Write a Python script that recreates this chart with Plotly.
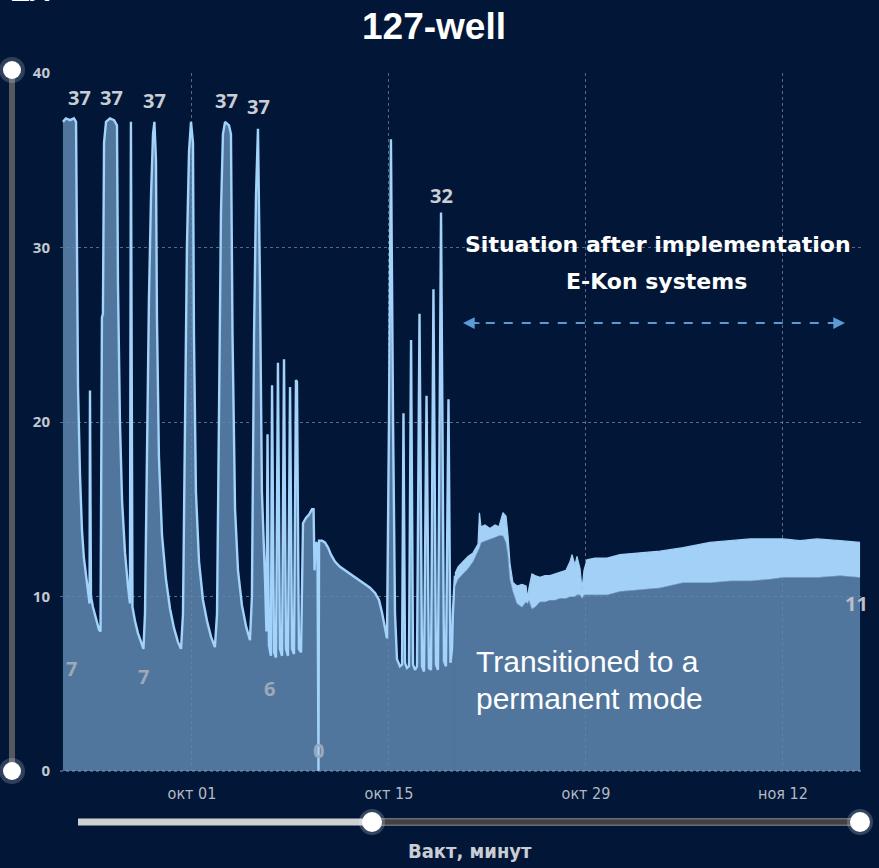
import plotly.graph_objects as go
import pandas as pd

# ---------------- data ----------------
base_date = pd.Timestamp("2023-10-01")

# days relative to 1 Oct, and values of the main (cyclic) series
main_days = [-9.17, -8.96, -8.67, -8.39, -8.24, -8.17, -8.10, -7.96, -7.82, -7.68,
             -7.53, -7.39, -7.28, -7.25, -7.18, -7.04, -6.82, -6.61, -6.50, -6.40,
             -6.33, -6.25, -6.11, -5.83, -5.54, -5.33, -5.26, -5.12, -4.97, -4.76,
             -4.55, -4.41, -4.34, -4.23, -4.05, -3.84, -3.62, -3.45, -3.34, -3.20,
             -3.06, -2.91, -2.77, -2.67, -2.56, -2.49, -2.35, -2.13, -1.85, -1.56,
             -1.28, -1.00, -0.78, -0.64, -0.50, -0.36, -0.21, -0.07, 0.07, 0.14,
             0.28, 0.50, 0.78, 1.07, 1.35, 1.63, 1.78, 1.92, 2.06, 2.20,
             2.35, 2.63, 2.77, 2.88, 3.06, 3.27, 3.55, 3.84, 4.12, 4.26,
             4.41, 4.55, 4.69, 4.83, 4.97, 5.19, 5.29, 5.37, 5.47, 5.61,
             5.69, 5.83, 5.97, 6.11, 6.25, 6.40, 6.54, 6.68, 6.82, 6.97,
             7.11, 7.25, 7.39, 7.46, 7.60, 7.75, 7.89, 8.10, 8.32, 8.53,
             8.64, 8.71, 8.81, 8.92, 8.96, 8.99, 9.03, 9.24, 9.45, 9.67,
             9.88, 10.16, 10.52, 10.87, 11.23, 11.58, 11.94, 12.30, 12.65, 13.01,
             13.29, 13.50, 13.72, 13.86, 14.00, 14.14, 14.29, 14.43, 14.57, 14.78,
             14.93, 15.03, 15.14, 15.28, 15.42, 15.57, 15.71, 15.85, 15.99, 16.17,
             16.35, 16.49, 16.67, 16.84, 16.99, 17.16, 17.34, 17.48, 17.70, 17.91,
             18.05, 18.23, 18.37, 18.48, 18.55, 18.69]
main_vals = [37.2, 37.4, 37.3, 37.4, 37.2, 30, 22, 17, 13.8, 12.2,
             11.2, 10.2, 9.6, 21.8, 10.0, 9.4, 8.8, 8.1, 8.0, 26,
             26.2, 36, 37.2, 37.4, 37.3, 37.0, 28, 20, 15.5, 12.5,
             10.6, 9.6, 37.2, 9.4, 8.6, 7.9, 7.4, 7.0, 9, 18,
             27, 33, 36.5, 37.2, 35, 26, 18, 13.5, 11, 9.3,
             8.2, 7.4, 7.0, 9, 20, 30, 35.5, 37.2, 36, 25,
             16, 12, 9.8, 8.6, 7.7, 7.1, 9, 22, 32, 36.5,
             37.2, 37.0, 36.5, 25, 15, 11.5, 9.5, 8.3, 7.5, 10,
             25, 33, 36.8, 28, 16, 11, 8, 19.3, 7.2, 6.6,
             22.1, 6.8, 6.5, 23.4, 7.0, 6.6, 23.6, 7, 6.6, 22,
             7, 6.7, 22.4, 22.3, 7.0, 6.8, 14.2, 14.5, 14.7, 15.0,
             15.0, 11.5, 13.1, 13.0, 0, 0, 13.2, 13.2, 13.1, 12.8,
             12.4, 12.0, 11.7, 11.5, 11.3, 11.1, 10.9, 10.7, 10.5, 10.2,
             9.8, 9.1, 8.2, 7.6, 20, 36.2, 20, 9, 6.4, 6.0,
             6.1, 20.5, 6.2, 5.9, 6.0, 24.7, 6.1, 5.8, 6.0, 26.2,
             6.0, 5.7, 21.5, 5.9, 5.8, 27.6, 6.1, 5.8, 32, 6.3,
             6.0, 21.3, 6.2, 7, 9.2, 11.2]

# permanent-mode section: upper and lower envelope of the dense oscillation
band_days = [18.69, 18.91, 19.26, 19.62, 19.97, 20.33, 20.43, 20.54, 20.82, 21.18,
             21.54, 21.82, 22.10, 22.32, 22.46, 22.60, 22.81, 23.10, 23.45, 23.74,
             23.85, 23.95, 24.16, 24.38, 24.73, 25.09, 25.44, 25.80, 26.15, 26.58,
             26.87, 27.01, 27.22, 27.36, 27.58, 27.72, 27.86, 28.07, 28.64, 29.50,
             30.42, 31.84, 33.26, 34.90, 36.82, 38.24, 39.66, 41.08, 42.00, 43.21,
             44.42, 46.06, 47.48]
band_upper = [11.3, 11.7, 12.0, 12.3, 12.5, 13.0, 14.8, 14.0, 14.1, 13.9,
              14.1, 14.0, 14.8, 14.6, 13.5, 11.9, 10.8, 10.6, 10.7, 10.6,
              9.9, 10.5, 11.3, 11.2, 11.1, 11.2, 11.2, 11.3, 11.4, 11.5,
              12.0, 12.4, 11.8, 12.3, 11.6, 10.4, 11.5, 12.1, 12.2, 12.2,
              12.4, 12.5, 12.6, 12.8, 13.1, 13.2, 13.3, 13.3, 13.3, 13.2,
              13.3, 13.2, 13.1]
band_lower = [10.6, 11.0, 11.3, 11.6, 12.0, 12.6, 12.8, 13.1, 13.2, 13.3,
              13.4, 13.5, 13.5, 13.1, 12.4, 11.0, 10.3, 9.6, 9.4, 9.7,
              9.6, 9.8, 9.3, 9.4, 9.7, 9.7, 9.8, 9.8, 9.9, 9.9,
              10.0, 10.0, 10.0, 10.1, 10.1, 9.9, 10.1, 10.1, 10.1, 10.1,
              10.3, 10.4, 10.5, 10.8, 10.8, 10.9, 10.9, 11.0, 11.1, 11.1,
              11.1, 11.2, 11.1]

tick_dates = ["2023-10-01", "2023-10-15", "2023-10-29", "2023-11-12"]
tick_text = ["окт 01", "окт 15", "окт 29", "ноя 12"]
y_ticks = [0, 10, 20, 30, 40]

# value labels: text, day, vertical position (value units)
label_text = ["37", "37", "37", "37", "37", "32", "7", "7", "6", "0", "11"]
label_days = [-7.96, -5.69, -2.63, 2.42, 4.76, 17.70, -8.53, -3.48, 5.54, 8.96, 47.25]
label_ys = [38.6, 38.6, 38.45, 38.4, 38.1, 33.0, 5.9, 5.4, 4.7, 1.2, 9.6]
label_colors = ["#c9cdd4"] * 6 + ["#9ea8b6"] * 4 + ["#b9bec7"]

# ---------------- helpers ----------------
W, H = 879, 868
ML, MR, MT, MB = 60, 15, 73, 97
PW, PH = W - ML - MR, H - MT - MB


def to_date(d):
    return base_date + pd.to_timedelta(d, unit="D")


def px(x):
    return (x - ML) / PW


def py(y):
    return (H - MB - y) / PH


BG = "#021737"
FILL = "rgba(94,134,176,0.86)"
LINE = "#a3d3fa"
BAND = "#a2d0f6"

fig = go.Figure()

fig.add_trace(go.Scatter(
    x=[to_date(d) for d in main_days], y=main_vals, mode="lines",
    line=dict(color=LINE, width=2.4), fill="tozeroy", fillcolor=FILL,
    hoverinfo="skip", showlegend=False))

fig.add_trace(go.Scatter(
    x=[to_date(d) for d in band_days], y=band_lower, mode="lines",
    line=dict(color=BAND, width=0.5), fill="tozeroy", fillcolor=FILL,
    hoverinfo="skip", showlegend=False))

fig.add_trace(go.Scatter(
    x=[to_date(d) for d in band_days], y=band_upper, mode="lines",
    line=dict(color=BAND, width=1.2), fill="tonexty", fillcolor=BAND,
    hoverinfo="skip", showlegend=False))

annotations = []
for t, d, yv, c in zip(label_text, label_days, label_ys, label_colors):
    annotations.append(dict(x=to_date(d), y=yv, xref="x", yref="y", text=t,
                            showarrow=False, xanchor="center", yanchor="middle",
                            font=dict(family="Open Sans", size=20, color=c, weight=700)))


def ptext(x, y, text, font, xanchor="center", yanchor="middle"):
    return dict(x=px(x), y=py(y), xref="paper", yref="paper", text=text, showarrow=False,
                xanchor=xanchor, yanchor=yanchor, font=font)


annotations += [
    ptext(434, 27, "127-well",
          dict(family="Liberation Sans, Arial", size=37, color="white", weight=700)),
    ptext(30, 9, "ЕЛ",
          dict(family="Liberation Sans, Arial", size=30, color="white", weight=700),
          yanchor="bottom"),
    ptext(658, 245, "Situation after implementation",
          dict(family="DejaVu Sans", size=22, color="white", weight=700)),
    ptext(656, 281, "E-Kon systems",
          dict(family="DejaVu Sans", size=22, color="white", weight=700)),
    ptext(474, 661, "Transitioned to a",
          dict(family="Liberation Sans, Arial", size=30, color="white"), xanchor="left"),
    ptext(474, 698, "permanent mode",
          dict(family="Liberation Sans, Arial", size=30, color="white"), xanchor="left"),
    ptext(470, 851, "Вакт, минут",
          dict(family="Liberation Sans Narrow, DejaVu Sans Condensed, Arial", size=20,
               color="#c9cdd4", weight=700)),
]

# arrow heads of the dashed double arrow
ARROW = "#5b9bd5"
ay_val = 25.67
annotations += [
    dict(x=to_date(19.26), y=ay_val, xref="x", yref="y", ax=18, ay=0, text="",
         showarrow=True, arrowhead=2, arrowsize=1.3, arrowwidth=1.8, arrowcolor=ARROW),
    dict(x=to_date(46.41), y=ay_val, xref="x", yref="y", ax=-18, ay=0, text="",
         showarrow=True, arrowhead=2, arrowsize=1.3, arrowwidth=1.8, arrowcolor=ARROW),
]

shapes = [
    dict(type="line", xref="x", yref="y", x0=to_date(19.6), x1=to_date(46.1), y0=ay_val, y1=ay_val,
         line=dict(color=ARROW, width=2, dash="dash")),
    dict(type="line", xref="paper", yref="paper", x0=0, x1=1, y0=0, y1=0,
         line=dict(color="#8b9ab0", width=1, dash="dot")),
]


def circle(cx, cy, r, color, opacity=1.0):
    return dict(type="circle", xref="paper", yref="paper",
                x0=px(cx - r), x1=px(cx + r), y0=py(cy + r), y1=py(cy - r),
                fillcolor=color, line=dict(width=0), opacity=opacity)


# left vertical slider
shapes += [
    dict(type="line", xref="paper", yref="paper", x0=px(12), x1=px(12), y0=py(70), y1=py(771),
         line=dict(color="#55585e", width=6)),
    circle(12, 70, 13, "white", 0.18),
    circle(12, 771, 13, "white", 0.18),
    circle(12, 70, 9, "white"),
    circle(12, 771, 9, "white"),
]
# bottom horizontal slider
shapes += [
    dict(type="line", xref="paper", yref="paper", x0=px(372), x1=px(860), y0=py(822), y1=py(822),
         line=dict(color="#6a6c70", width=8)),
    dict(type="line", xref="paper", yref="paper", x0=px(372), x1=px(860), y0=py(822), y1=py(822),
         line=dict(color="#3f4145", width=5)),
    dict(type="line", xref="paper", yref="paper", x0=px(78), x1=px(372), y0=py(822), y1=py(822),
         line=dict(color="#cfd0d2", width=7)),
    circle(372, 822, 13, "white", 0.2),
    circle(860, 822, 13, "white", 0.2),
    circle(372, 822, 10, "white"),
    circle(860, 822, 10, "white"),
]

fig.update_layout(
    width=W, height=H,
    margin=dict(l=ML, r=MR, t=MT, b=MB),
    paper_bgcolor=BG, plot_bgcolor=BG,
    showlegend=False,
    annotations=annotations,
    shapes=shapes,
    xaxis=dict(
        type="date",
        range=[to_date(-9.38), to_date(47.76)],
        tickvals=tick_dates, ticktext=tick_text,
        showgrid=True, gridcolor="rgba(160,175,195,0.55)", griddash="dot", gridwidth=1,
        ticks="outside", ticklen=8, tickcolor="rgba(0,0,0,0)",
        tickfont=dict(family="Liberation Sans Narrow, DejaVu Sans Condensed, Arial", size=16,
                      color="#b4bac4"),
        showline=False, zeroline=False, fixedrange=True,
    ),
    yaxis=dict(
        range=[0, 40], tickvals=y_ticks,
        showgrid=True, gridcolor="rgba(160,175,195,0.55)", griddash="dot", gridwidth=1,
        ticks="outside", ticklen=6, tickcolor="rgba(0,0,0,0)",
        tickfont=dict(family="Open Sans", size=15, color="#c3c8d0", weight=700),
        showline=False, zeroline=False, fixedrange=True,
    ),
)

fig.write_html("out.html", config={"displayModeBar": False},
               post_script="document.body.style.margin='0';document.body.style.background='#021737';")
